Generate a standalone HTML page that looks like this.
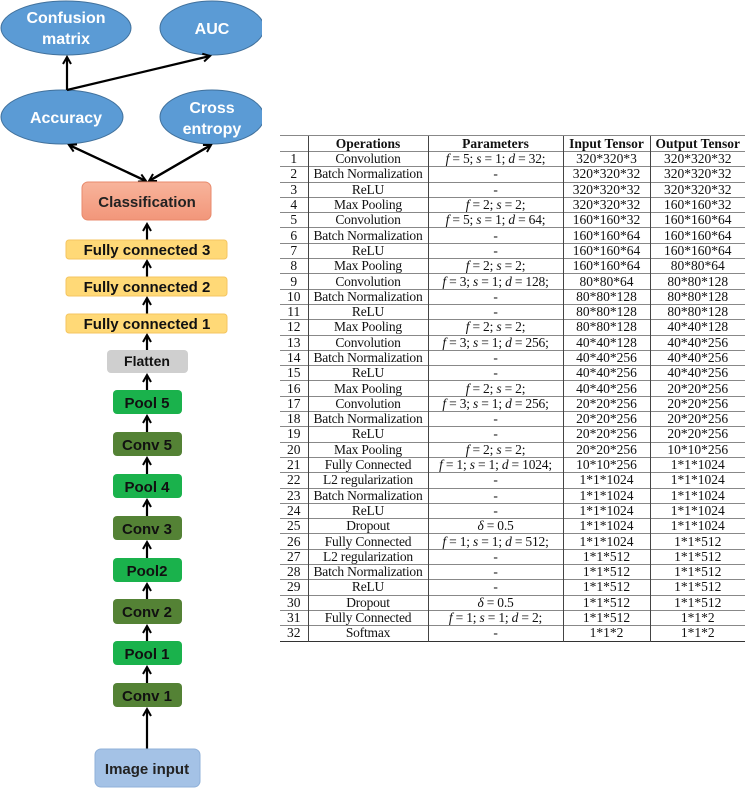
<!DOCTYPE html>
<html><head><meta charset="utf-8"><style>
body{margin:0;width:745px;height:789px;background:#fff;position:relative;overflow:hidden;font-family:"Liberation Sans",sans-serif}
svg{position:absolute;left:0;top:0}
table{position:absolute;left:280px;top:135px;width:465px;border-collapse:collapse;font-family:"Liberation Serif",serif;font-size:13.5px;color:#111;border-top:1.5px solid #333;border-bottom:1.5px solid #333;table-layout:fixed}
td,th{height:14.3px;padding:0;text-align:center;border-top:1px solid #888;border-left:1px solid #444;line-height:14px;white-space:nowrap;overflow:visible}
td:first-child,th:first-child{border-left:none}
th{font-weight:bold;height:15px}
td:nth-child(2),td:nth-child(3){letter-spacing:-0.2px}
i{font-style:italic}
</style></head><body>
<svg width="262" height="789" viewBox="0 0 262 789" font-family="Liberation Sans, sans-serif" font-weight="bold">
<defs>
<marker id="a" markerWidth="10" markerHeight="10" refX="8" refY="5" orient="auto" markerUnits="userSpaceOnUse"><path d="M1,1 L8,5 L1,9" fill="none" stroke="#000" stroke-width="2"/></marker>
<linearGradient id="cg" x1="0" y1="0" x2="0" y2="1"><stop offset="0" stop-color="#f8b49b"/><stop offset="1" stop-color="#f2967a"/></linearGradient>
</defs>
<g fill="#5b9bd5" stroke="#41719c" stroke-width="1">
<ellipse cx="66" cy="28" rx="65" ry="27"/>
<ellipse cx="212" cy="28" rx="52" ry="27"/>
<ellipse cx="62" cy="117" rx="61" ry="27"/>
<ellipse cx="212" cy="117" rx="52" ry="27"/>
</g>
<g fill="#fff" font-size="16" text-anchor="middle">
<text x="66" y="23">Confusion</text><text x="66" y="44">matrix</text>
<text x="212" y="34">AUC</text>
<text x="66" y="123">Accuracy</text>
<text x="212" y="113">Cross</text><text x="212" y="134">entropy</text>
</g>
<g stroke="#000" stroke-width="2.2" fill="none">
<line x1="67" y1="90" x2="67" y2="57" marker-end="url(#a)"/>
<line x1="67" y1="90" x2="210" y2="56" marker-end="url(#a)"/>
<line x1="146" y1="181" x2="69" y2="145" marker-end="url(#a)"/>
<line x1="69" y1="145" x2="146" y2="181" marker-end="url(#a)"/>
<line x1="149" y1="181" x2="211" y2="145" marker-end="url(#a)"/>
<line x1="211" y1="145" x2="149" y2="181" marker-end="url(#a)"/>
<line x1="147" y1="240" x2="147" y2="224" marker-end="url(#a)"/>
<line x1="147" y1="277" x2="147" y2="261" marker-end="url(#a)"/>
<line x1="147" y1="314" x2="147" y2="298" marker-end="url(#a)"/>
<line x1="147" y1="350" x2="147" y2="335" marker-end="url(#a)"/>
<line x1="147" y1="390" x2="147" y2="375" marker-end="url(#a)"/>
<line x1="147" y1="432" x2="147" y2="416" marker-end="url(#a)"/>
<line x1="147" y1="474" x2="147" y2="458" marker-end="url(#a)"/>
<line x1="147" y1="516" x2="147" y2="500" marker-end="url(#a)"/>
<line x1="147" y1="558" x2="147" y2="542" marker-end="url(#a)"/>
<line x1="147" y1="599" x2="147" y2="584" marker-end="url(#a)"/>
<line x1="147" y1="641" x2="147" y2="626" marker-end="url(#a)"/>
<line x1="147" y1="683" x2="147" y2="667" marker-end="url(#a)"/>
<line x1="147" y1="749" x2="147" y2="709" marker-end="url(#a)"/>
</g>
<rect x="82" y="182" width="129" height="38" rx="6" fill="url(#cg)" stroke="#e88a6c"/>
<text x="147" y="207" font-size="15" text-anchor="middle" fill="#222">Classification</text>
<g fill="#ffd977" stroke="#f4c560">
<rect x="66" y="240" width="161" height="19" rx="3"/>
<rect x="66" y="277" width="161" height="19" rx="3"/>
<rect x="66" y="314" width="161" height="19" rx="3"/>
</g>
<g font-size="15" text-anchor="middle" fill="#111">
<text x="147" y="255">Fully connected 3</text>
<text x="147" y="292">Fully connected 2</text>
<text x="147" y="329">Fully connected 1</text>
</g>
<rect x="107" y="350" width="81" height="23" rx="4" fill="#cfcfcf"/>
<text x="147" y="366" font-size="14" text-anchor="middle" fill="#111">Flatten</text>
<g>
<rect x="113" y="390" width="69" height="24" rx="4" fill="#1ab24c"/>
<rect x="113" y="432" width="69" height="24" rx="4" fill="#548235"/>
<rect x="113" y="474" width="69" height="24" rx="4" fill="#1ab24c"/>
<rect x="113" y="516" width="69" height="24" rx="4" fill="#548235"/>
<rect x="113" y="558" width="69" height="24" rx="4" fill="#1ab24c"/>
<rect x="113" y="599" width="69" height="25" rx="4" fill="#548235"/>
<rect x="113" y="641" width="69" height="24" rx="4" fill="#1ab24c"/>
<rect x="113" y="683" width="69" height="24" rx="4" fill="#548235"/>
</g>
<g font-size="15" text-anchor="middle" fill="#111">
<text x="147" y="408">Pool 5</text>
<text x="147" y="450">Conv 5</text>
<text x="147" y="492">Pool 4</text>
<text x="147" y="534">Conv 3</text>
<text x="147" y="576">Pool2</text>
<text x="147" y="617">Conv 2</text>
<text x="147" y="659">Pool 1</text>
<text x="147" y="701">Conv 1</text>
</g>
<rect x="95" y="749" width="105" height="38" rx="6" fill="#a4c2e6" stroke="#8fb0d8"/>
<text x="147" y="774" font-size="15" text-anchor="middle" fill="#222">Image input</text>
</svg>
<table>
<colgroup><col style="width:28px"><col style="width:120px"><col style="width:135px"><col style="width:87px"><col></colgroup>
<tr><th></th><th>Operations</th><th>Parameters</th><th>Input Tensor</th><th>Output Tensor</th></tr>
<tr><td>1</td><td>Convolution</td><td><i>f</i> = 5; <i>s</i> = 1; <i>d</i> = 32;</td><td>320*320*3</td><td>320*320*32</td></tr>
<tr><td>2</td><td>Batch Normalization</td><td>-</td><td>320*320*32</td><td>320*320*32</td></tr>
<tr><td>3</td><td>ReLU</td><td>-</td><td>320*320*32</td><td>320*320*32</td></tr>
<tr><td>4</td><td>Max Pooling</td><td><i>f</i> = 2; <i>s</i> = 2;</td><td>320*320*32</td><td>160*160*32</td></tr>
<tr><td>5</td><td>Convolution</td><td><i>f</i> = 5; <i>s</i> = 1; <i>d</i> = 64;</td><td>160*160*32</td><td>160*160*64</td></tr>
<tr><td>6</td><td>Batch Normalization</td><td>-</td><td>160*160*64</td><td>160*160*64</td></tr>
<tr><td>7</td><td>ReLU</td><td>-</td><td>160*160*64</td><td>160*160*64</td></tr>
<tr><td>8</td><td>Max Pooling</td><td><i>f</i> = 2; <i>s</i> = 2;</td><td>160*160*64</td><td>80*80*64</td></tr>
<tr><td>9</td><td>Convolution</td><td><i>f</i> = 3; <i>s</i> = 1; <i>d</i> = 128;</td><td>80*80*64</td><td>80*80*128</td></tr>
<tr><td>10</td><td>Batch Normalization</td><td>-</td><td>80*80*128</td><td>80*80*128</td></tr>
<tr><td>11</td><td>ReLU</td><td>-</td><td>80*80*128</td><td>80*80*128</td></tr>
<tr><td>12</td><td>Max Pooling</td><td><i>f</i> = 2; <i>s</i> = 2;</td><td>80*80*128</td><td>40*40*128</td></tr>
<tr><td>13</td><td>Convolution</td><td><i>f</i> = 3; <i>s</i> = 1; <i>d</i> = 256;</td><td>40*40*128</td><td>40*40*256</td></tr>
<tr><td>14</td><td>Batch Normalization</td><td>-</td><td>40*40*256</td><td>40*40*256</td></tr>
<tr><td>15</td><td>ReLU</td><td>-</td><td>40*40*256</td><td>40*40*256</td></tr>
<tr><td>16</td><td>Max Pooling</td><td><i>f</i> = 2; <i>s</i> = 2;</td><td>40*40*256</td><td>20*20*256</td></tr>
<tr><td>17</td><td>Convolution</td><td><i>f</i> = 3; <i>s</i> = 1; <i>d</i> = 256;</td><td>20*20*256</td><td>20*20*256</td></tr>
<tr><td>18</td><td>Batch Normalization</td><td>-</td><td>20*20*256</td><td>20*20*256</td></tr>
<tr><td>19</td><td>ReLU</td><td>-</td><td>20*20*256</td><td>20*20*256</td></tr>
<tr><td>20</td><td>Max Pooling</td><td><i>f</i> = 2; <i>s</i> = 2;</td><td>20*20*256</td><td>10*10*256</td></tr>
<tr><td>21</td><td>Fully Connected</td><td><i>f</i> = 1; <i>s</i> = 1; <i>d</i> = 1024;</td><td>10*10*256</td><td>1*1*1024</td></tr>
<tr><td>22</td><td>L2 regularization</td><td>-</td><td>1*1*1024</td><td>1*1*1024</td></tr>
<tr><td>23</td><td>Batch Normalization</td><td>-</td><td>1*1*1024</td><td>1*1*1024</td></tr>
<tr><td>24</td><td>ReLU</td><td>-</td><td>1*1*1024</td><td>1*1*1024</td></tr>
<tr><td>25</td><td>Dropout</td><td><i>δ</i> = 0.5</td><td>1*1*1024</td><td>1*1*1024</td></tr>
<tr><td>26</td><td>Fully Connected</td><td><i>f</i> = 1; <i>s</i> = 1; <i>d</i> = 512;</td><td>1*1*1024</td><td>1*1*512</td></tr>
<tr><td>27</td><td>L2 regularization</td><td>-</td><td>1*1*512</td><td>1*1*512</td></tr>
<tr><td>28</td><td>Batch Normalization</td><td>-</td><td>1*1*512</td><td>1*1*512</td></tr>
<tr><td>29</td><td>ReLU</td><td>-</td><td>1*1*512</td><td>1*1*512</td></tr>
<tr><td>30</td><td>Dropout</td><td><i>δ</i> = 0.5</td><td>1*1*512</td><td>1*1*512</td></tr>
<tr><td>31</td><td>Fully Connected</td><td><i>f</i> = 1; <i>s</i> = 1; <i>d</i> = 2;</td><td>1*1*512</td><td>1*1*2</td></tr>
<tr><td>32</td><td>Softmax</td><td>-</td><td>1*1*2</td><td>1*1*2</td></tr>
</table>
</body></html>
